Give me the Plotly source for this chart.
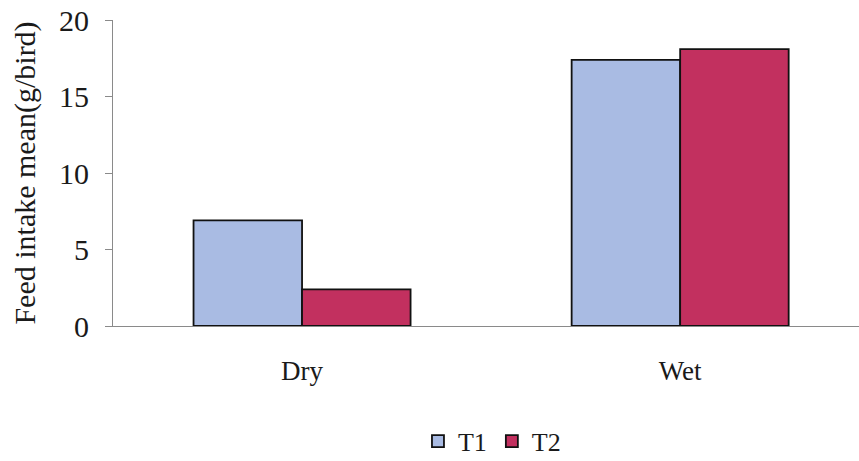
import plotly.graph_objects as go

# Feed intake means by season and treatment
seasons = ["Dry", "Wet"]
t1_values = [6.9, 17.4]
t2_values = [2.4, 18.1]
y_ticks = [0, 5, 10, 15, 20]

font_family = "Liberation Serif"

fig = go.Figure()
fig.add_trace(go.Bar(
    name="T1", x=seasons, y=t1_values,
    marker=dict(color="#A9BBE3", line=dict(color="#111111", width=1.8)),
))
fig.add_trace(go.Bar(
    name="T2", x=seasons, y=t2_values,
    marker=dict(color="#C2305F", line=dict(color="#111111", width=1.8)),
))

fig.update_layout(
    width=859, height=461,
    margin=dict(l=113, r=0, t=20, b=135, autoexpand=False),
    paper_bgcolor="white", plot_bgcolor="white",
    barmode="group", bargap=0.426, bargroupgap=0,
    font=dict(family=font_family, color="#1a1a1a", size=28),
    showlegend=True,
    legend=dict(
        orientation="h", x=0.508, xanchor="center", y=-0.3, yanchor="top",
        font=dict(family=font_family, size=26), itemwidth=30, tracegroupgap=0,
    ),
    xaxis=dict(
        range=[-0.5, 1.473],
        showline=True, linecolor="#8a8a8a", linewidth=1,
        ticks="", showgrid=False, zeroline=False,
        tickfont=dict(family=font_family, size=27), ticklabelstandoff=21,
    ),
    yaxis=dict(
        range=[0, 20], tickvals=y_ticks,
        showline=True, linecolor="#8a8a8a", linewidth=1,
        ticks="outside", ticklen=7, tickcolor="#8a8a8a",
        showgrid=False, zeroline=False,
        tickfont=dict(family=font_family, size=30), ticklabelstandoff=10,
        title=dict(text="Feed intake mean(g/bird)",
                   font=dict(family=font_family, size=30), standoff=14),
    ),
)

fig.write_html("out.html")
